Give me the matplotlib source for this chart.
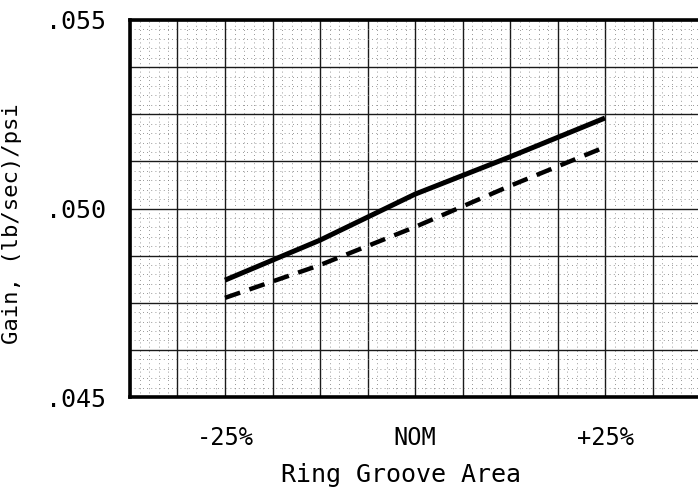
import numpy as np
import matplotlib
matplotlib.use("Agg")
import matplotlib.pyplot as plt
from matplotlib.ticker import MultipleLocator

# Ring groove area change (%)
area_pct = [-25, -12.5, 0, 12.5, 25]
gain_solid = [0.04810, 0.04916, 0.05038, 0.05137, 0.05240]
gain_dashed = [0.04763, 0.04850, 0.04951, 0.05060, 0.05163]

x_ticks = [-25, 0, 25]
x_labels = ["-25%", "NOM", "+25%"]
y_ticks = [0.045, 0.050, 0.055]
y_labels = [".045", ".050", ".055"]

plt.rcParams['font.family'] = ['DejaVu Sans Mono', 'DejaVu Sans']

fig = plt.figure(figsize=(6.98, 4.93), dpi=100)
ax = fig.add_axes([130 / 698, 1 - 397 / 493, 570 / 698, 377 / 493])

# graph paper: major cells of 6.25 % x 0.00125, each split in five
xt = np.arange(-37.5, 37.6, 6.25)
yt = np.arange(0.045, 0.05501, 0.00125)
ax.set_xticks(xt)
ax.set_yticks(yt)
ax.xaxis.set_minor_locator(MultipleLocator(1.25))
ax.yaxis.set_minor_locator(MultipleLocator(0.00025))
ax.set_xticklabels([x_labels[x_ticks.index(v)] if v in x_ticks else "" for v in xt])
lab = []
for v in yt:
    m = [l for t, l in zip(y_ticks, y_labels) if abs(t - v) < 1e-9]
    lab.append(m[0] if m else "")
ax.set_yticklabels(lab)

ax.set_xlim(-37.5, 37.5)
ax.set_ylim(0.045, 0.055)

ax.grid(which='major', color='#1a1a1a', linewidth=1.0)
ax.grid(which='minor', color='#777777', linewidth=0.6, linestyle=(0, (1, 4)))
ax.set_axisbelow(True)

ax.tick_params(which='both', length=0)
ax.tick_params(axis='x', pad=21, labelsize=17)
ax.tick_params(axis='y', pad=17, labelsize=18)

for side in ['left', 'top', 'bottom']:
    ax.spines[side].set_linewidth(2.6)
ax.spines['right'].set_visible(False)

ax.plot(area_pct, gain_solid, color='black', linewidth=3.6, solid_capstyle='butt', zorder=5)
ax.plot(area_pct, gain_dashed, color='black', linewidth=3.2, dashes=(3.6, 2.2), zorder=5)

ax.set_xlabel("Ring Groove Area", fontsize=18, labelpad=12)
ax.xaxis.set_label_coords((401 - 130) / 570, -0.175)
ax.set_ylabel("Gain, (lb/sec)/psi", fontsize=16)
ax.yaxis.set_label_coords(-0.19, 0.46)

fig.savefig("out.png", dpi=100)
